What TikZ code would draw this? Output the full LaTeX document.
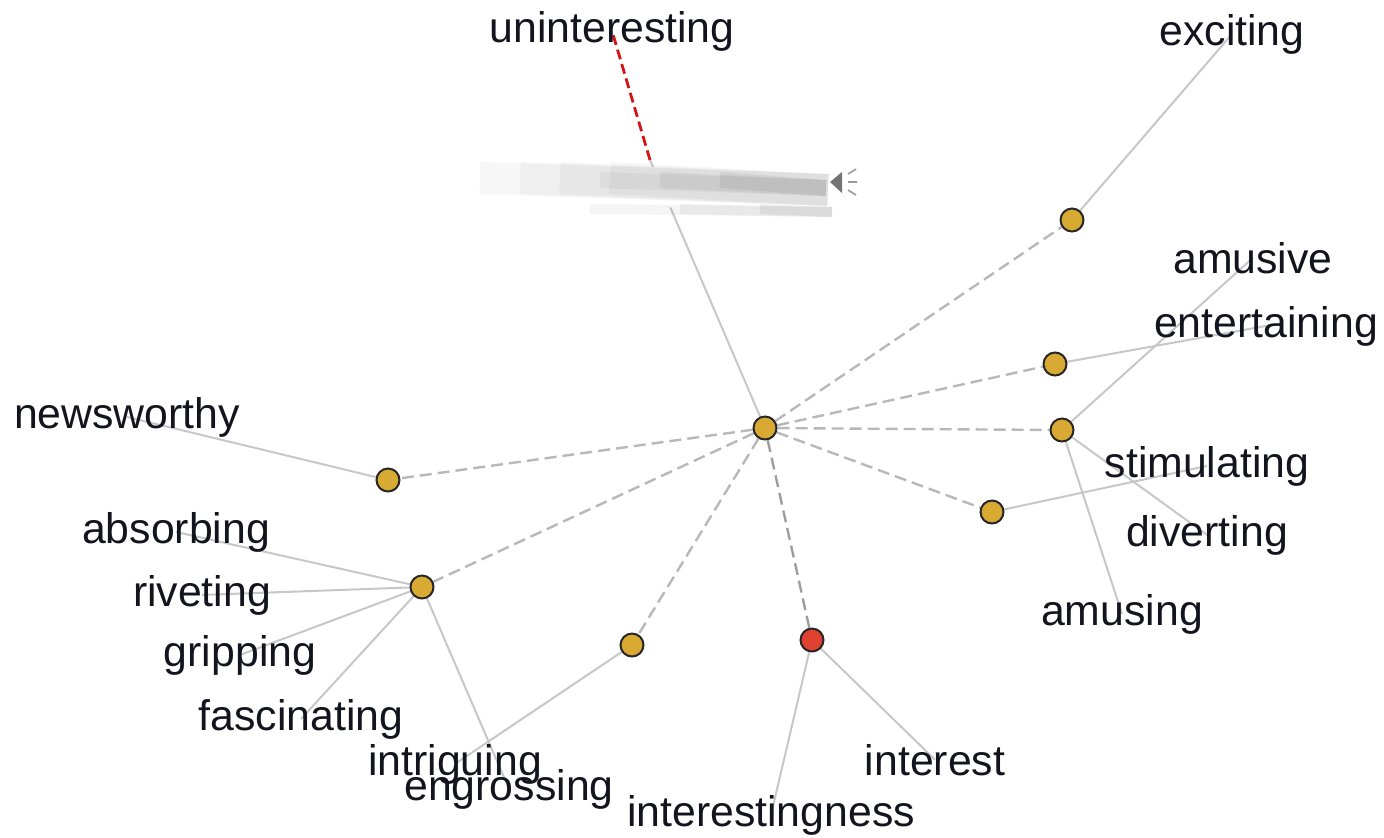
\documentclass[tikz,border=0pt]{standalone}
\usepackage{fontspec}
\setmainfont{Liberation Sans}
\usetikzlibrary{backgrounds}
\definecolor{hubyellow}{RGB}{216,169,51}
\definecolor{hubred}{RGB}{224,64,48}
\definecolor{wordink}{RGB}{20,20,30}
\definecolor{linkred}{RGB}{210,20,20}

\begin{document}
\begin{tikzpicture}[x=.5pt,y=-.5pt]


\tikzset{Dot/.style = {circle, draw=black!85, line width=1pt, fill=hubyellow,
                       minimum size=11.5pt, inner sep=0pt},
         HotDot/.style = {Dot, fill=hubred},
         Word/.style = {anchor=base, inner sep=0pt, text=wordink,
                        font=\fontsize{21.4pt}{24pt}\selectfont},
         Leaf/.style = {draw=black!22, line width=1pt},
         Hub/.style = {draw=black!28, line width=1.2pt, dash pattern=on 6pt off 3pt},
         Antonym/.style = {draw=linkred, line width=1.4pt, dash pattern=on 5pt off 2.5pt},
         Smear/.style = {line cap=butt, draw=black, opacity=#1}}

\useasboundingbox (0,0) rectangle (1384,837);

% synset dots
\node[Dot] (hub) at (765,428) {};
\node[Dot] (sExc) at (1072,220) {};
\node[Dot] (sEnt) at (1055,364) {};
\node[Dot] (sAmu) at (1062,430) {};
\node[Dot] (sSti) at (992,512) {};
\node[Dot] (sNew) at (388,480) {};
\node[Dot] (sAbs) at (422,587) {};
\node[Dot] (sIntr) at (632,645) {};
\node[HotDot] (sInt) at (812,640) {};
\coordinate (ghost) at (650,160);

% words
\node[Word] (wUnint) at (612,42) {uninteresting};
\node[Word] (wExc) at (1232,45) {exciting};
\node[Word] (wAmusive) at (1253,273) {amusive};
\node[Word] (wEnt) at (1266,337) {entertaining};
\node[Word] (wNews) at (127,428) {newsworthy};
\node[Word] (wAbs) at (176,543) {absorbing};
\node[Word] (wRiv) at (202,606) {riveting};
\node[Word] (wGrip) at (240,666) {gripping};
\node[Word] (wFasc) at (301,730) {fascinating};
\node[Word] (wIntr) at (455,775) {intriguing};
\node[Word] (wEngr) at (509,800) {engrossing};
\node[Word] (wIness) at (771,826) {interestingness};
\node[Word] (wInt) at (935,775) {interest};
\node[Word] (wSti) at (1207,477) {stimulating};
\node[Word] (wDiv) at (1207,546) {diverting};
\node[Word] (wAmusing) at (1122,625) {amusing};

% blurred moving node
\draw[line width=20pt, white] (480,182) -- (830,192);
\foreach \x/\o in {480/.03, 520/.03, 560/.03, 610/.03}
  \draw[Smear=\o, line width=16pt] (\x,178) -- (828,190);
\foreach \x/\o in {600/.04, 660/.05, 720/.06}
  \draw[Smear=\o, line width=8pt] (\x,180) -- (826,188);
\foreach \x/\o in {590/.04, 680/.05, 760/.06}
  \draw[Smear=\o, line width=5pt] (\x,209) -- (832,212);
\fill[black!55] (830,182) -- (842,172) -- (842,193) -- cycle;
\draw[black!40, line width=.8pt] (848,174) -- (856,169) (848,182) -- (857,182) (848,190) -- (856,195);

\begin{pgfonlayer}{background}
\draw[Hub] (hub) -- (sExc);
\draw[Hub] (hub) -- (sEnt);
\draw[Hub] (hub) -- (sAmu);
\draw[Hub] (hub) -- (sSti);
\draw[Hub] (hub) -- (sNew);
\draw[Hub] (hub) -- (sAbs);
\draw[Hub] (hub) -- (sIntr);
\draw[Hub, draw=black!38] (hub) -- (sInt);
\draw[Leaf] (hub) -- (ghost);
\draw[Antonym] (ghost) -- (wUnint.center);

\draw[Leaf] (sExc) -- (wExc.center);
\draw[Leaf] (sEnt) -- (wEnt.center);
\draw[Leaf] (sAmu) -- (wAmusive.center);
\draw[Leaf] (sAmu) -- (wDiv.center);
\draw[Leaf] (sAmu) -- (wAmusing.center);
\draw[Leaf] (sSti) -- (wSti.center);
\draw[Leaf] (sNew) -- (wNews.center);
\draw[Leaf] (sAbs) -- (wAbs.center);
\draw[Leaf] (sAbs) -- (wRiv.center);
\draw[Leaf] (sAbs) -- (wGrip.center);
\draw[Leaf] (sAbs) -- (wFasc.center);
\draw[Leaf] (sAbs) -- (wEngr.center);
\draw[Leaf] (sIntr) -- (wIntr.center);
\draw[Leaf] (sInt) -- (wInt.center);
\draw[Leaf] (sInt) -- (wIness.center);
\end{pgfonlayer}

\end{tikzpicture}
\end{document}
